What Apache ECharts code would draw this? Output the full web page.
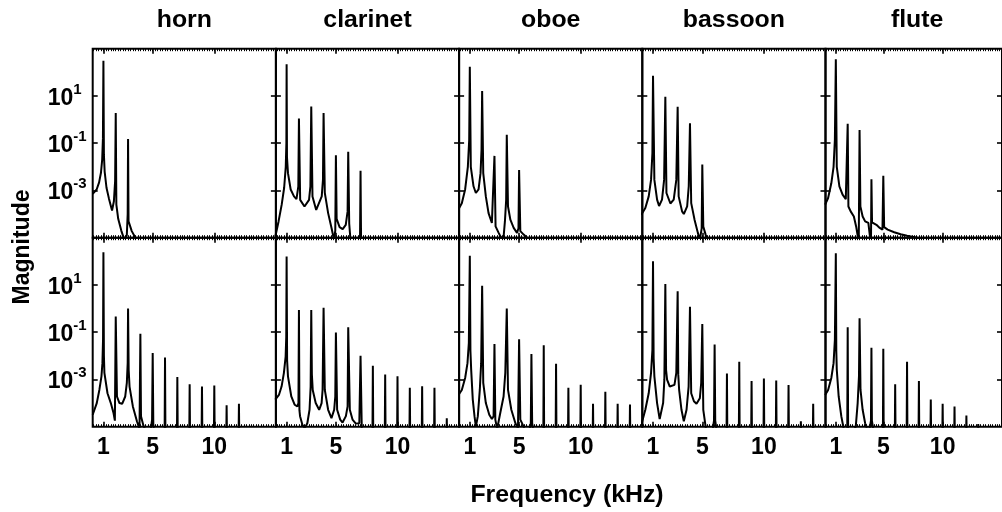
<!DOCTYPE html>
<html><head><meta charset="utf-8">
<script src="https://cdn.jsdelivr.net/npm/echarts@6/dist/echarts.min.js"></script>
<style>html,body{margin:0;padding:0;background:#fff}#c{width:1002px;height:512px}</style>
</head><body><div id="c"></div>
<script>
// ---- data (frequency kHz, magnitude) ----
const instruments = ['horn', 'clarinet', 'oboe', 'bassoon', 'flute'];
const xTickLabels = [1, 5, 10];
const yTickValues = [10, 0.1, 0.001];
const yMin = 1e-5, yMax = 1e3, xMin = 0.13, xMax = 15;

const hornTop = [[0.13,7.2e-4],[0.45,1.1e-3],[0.65,2.2e-3],[0.8,5.6e-3],[0.9,2e-2],[0.96,0.16],[1,310],[1.04,3.2e-2],[1.1,6.3e-3],[1.25,1.3e-3],[1.45,4.5e-4],[1.7,1.4e-4],[1.85,3.5e-4],[1.95,2.5e-3],[2,1.9],[2.05,2.5e-4],[2.2,6.3e-5],[2.45,2e-5],[2.7,8e-6],[2.9,1.3e-5],[2.97,1e-4],[3,0.15],[3.04,5e-5],[3.3,1.9e-5],[3.7,8e-6],[4.2,3e-6]];
const clarinetTop = [[0.08,1.1e-5],[0.35,5e-5],[0.6,2.5e-4],[0.8,1.3e-3],[0.93,1e-2],[0.98,0.1],[1,220],[1.03,2.5e-2],[1.11,5.4e-3],[1.33,1.1e-3],[1.6,5.6e-4],[1.8,4.3e-4],[1.95,1.5e-3],[2,1.1],[2.1,4e-4],[2.45,2.1e-4],[2.82,4e-4],[2.93,1.5e-3],[3,3.6],[3.1,5.6e-4],[3.4,1.5e-4],[3.5,1.4e-4],[3.85,5.6e-4],[3.95,2.8e-3],[4,1.9],[4.1,7.9e-4],[4.37,1.1e-4],[4.65,2.5e-5],[4.85,8e-6],[4.95,2e-5],[5,3.1e-2],[5.06,6.3e-5],[5.3,2.8e-5],[5.55,2.3e-5],[5.8,3.5e-5],[5.95,1.3e-4],[6,4.3e-2],[6.08,4e-5],[6.2,6.3e-6],[6.95,3e-6],[7,6.8e-3],[7.05,3e-6]];
const oboeTop = [[0.08,1.6e-4],[0.35,2.9e-4],[0.62,1.1e-3],[0.84,1e-2],[0.95,0.14],[1,170],[1.08,1e-2],[1.3,1.5e-3],[1.49,7.8e-4],[1.71,1.1e-3],[1.87,5.4e-3],[1.95,5.2e-2],[2,16],[2.09,5.4e-3],[2.3,5.6e-4],[2.52,1.1e-4],[2.79,4.2e-5],[2.93,5e-5],[3,2.9e-2],[3.09,3e-5],[3.34,1.6e-5],[3.5,1.1e-5],[3.72,8e-6],[3.85,5e-5],[3.95,4e-4],[4,0.23],[4.1,2.1e-4],[4.29,5.8e-5],[4.56,2.6e-5],[4.83,1.6e-5],[4.95,2.5e-5],[5,7.4e-3],[5.1,1.9e-5],[5.37,1.35e-5],[5.65,1e-5],[5.95,7e-6]];
const bassoonTop = [[0.05,9.3e-5],[0.375,1.8e-4],[0.65,5.6e-4],[0.84,2.8e-3],[0.95,3.8e-2],[1,72],[1.11,2.8e-3],[1.33,4.1e-4],[1.49,2.2e-4],[1.73,4.1e-4],[1.9,2.8e-3],[2,9.3],[2.09,7.8e-4],[2.41,2.8e-4],[2.68,4.1e-4],[2.89,2.8e-3],[3,3.5],[3.08,5.6e-4],[3.36,1.3e-4],[3.5,1e-4],[3.77,2.1e-4],[3.9,1.5e-3],[4,0.7],[4.1,2.9e-4],[4.37,5.8e-5],[4.64,1.6e-5],[4.8,8e-6],[4.95,2.5e-5],[5,1.26e-2],[5.08,3e-5],[5.27,1.35e-5],[5.45,7e-6]];
const fluteTop = [[0.1,2.5e-4],[0.35,4.8e-4],[0.62,2e-3],[0.81,1e-2],[0.92,0.14],[1,360],[1.08,1e-2],[1.3,1.5e-3],[1.57,6.6e-4],[1.84,4.3e-4],[1.95,5e-4],[2,0.66],[2.06,2.1e-4],[2.25,1.3e-4],[2.52,7.9e-5],[2.71,3e-5],[2.85,1.15e-5],[2.93,5e-6],[3,0.36],[3.07,2.1e-4],[3.26,7.9e-5],[3.47,4.9e-5],[3.74,4.2e-5],[3.9,3.5e-5],[3.96,5e-6],[4,3e-3],[4.05,4.5e-5],[4.15,4.2e-5],[4.42,3.5e-5],[4.7,2.6e-5],[4.93,2.2e-5],[5,4.2e-3],[5.07,2.8e-5],[5.37,2.2e-5],[5.92,1.7e-5],[6.46,1.4e-5],[7,1.2e-5],[7.55,1.07e-5],[8.1,9.3e-6],[8.6,7e-6]];

const hornBottom = [[0.13,3.2e-5],[0.46,1e-4],[0.67,3.6e-4],[0.84,1.35e-3],[0.92,4.9e-3],[0.97,5e-2],[1,240],[1.04,1e-2],[1.08,1.9e-3],[1.33,2.6e-4],[1.6,1e-4],[1.82,3.8e-5],[1.93,1.8e-5],[2,0.46],[2.1,1.9e-4],[2.3,1e-4],[2.52,9.3e-5],[2.77,1.9e-4],[2.9,7.1e-4],[2.97,5e-3],[3,1],[3.05,2.5e-3],[3.12,5e-4],[3.39,7.2e-5],[3.72,1.7e-5],[3.93,8e-6],[4,8.5e-2],[4.05,2.8e-5],[4.26,1.05e-5],[4.5,6.3e-6],[4.85,8e-6],[4.95,2e-5],[5,1.3e-2],[5.05,1.26e-5],[5.2,3e-6]];
const hornBottomSpikes = [[6,8.5e-3],[7,1.26e-3],[8,6.2e-4],[9,5e-4],[10,5.6e-4],[11,8e-5],[12,9.3e-5]];
const clarinetBottom = [[0.08,1.4e-4],[0.375,2.2e-4],[0.59,5e-4],[0.78,1.9e-3],[0.92,9.3e-3],[0.97,6.3e-2],[1,160],[1.04,6.3e-3],[1.11,1.35e-3],[1.38,1.9e-4],[1.65,8.5e-5],[1.87,7.2e-5],[1.96,1e-4],[2,0.87],[2.04,5e-5],[2.09,2.8e-5],[2.28,1.2e-5],[2.47,8.7e-6],[2.68,1.4e-5],[2.86,5.2e-5],[2.95,5e-4],[3,0.87],[3.05,1.6e-3],[3.12,3.6e-4],[3.36,1e-4],[3.64,5.2e-5],[3.84,1e-4],[3.92,3.6e-4],[4,1.07],[4.1,3.6e-4],[4.37,5.2e-5],[4.64,2.3e-5],[4.86,5.2e-5],[4.95,1.9e-4],[5,9.8e-2],[5.1,5.2e-5],[5.35,2e-5],[5.54,1.5e-5],[5.81,2.8e-5],[5.95,7.2e-5],[6,0.16],[6.13,5.2e-5],[6.35,2e-5],[6.62,1.35e-5],[6.9,1.4e-5],[7,1e-2],[7.1,8.7e-6],[7.25,3e-6]];
const clarinetBottomSpikes = [[8,3.8e-3],[9,1.6e-3],[10,1.35e-3],[11,4.5e-4],[12,5.2e-4],[13,4.5e-4],[14,2.3e-5]];
const oboeBottom = [[0.08,2.2e-4],[0.35,3.6e-4],[0.62,1.15e-3],[0.81,4.9e-3],[0.92,3.5e-2],[1,170],[1.05,1.6e-2],[1.11,2.6e-3],[1.24,1.4e-4],[1.38,2.8e-5],[1.49,1e-5],[1.65,2.8e-5],[1.81,3.6e-4],[1.92,4.9e-3],[2,9.3],[2.09,7.1e-4],[2.3,1e-4],[2.58,3.2e-5],[2.79,2.1e-5],[2.93,2.8e-5],[3,3.2e-2],[3.07,2e-5],[3.22,8e-6],[3.47,3.8e-5],[3.74,1.9e-4],[3.88,1.9e-3],[4,1],[4.1,3.6e-4],[4.37,5.2e-5],[4.7,1.4e-5],[4.91,8.7e-6],[5,5e-2],[5.1,2e-5],[5.37,1e-5],[5.55,5e-6],[5.85,8e-6],[5.95,1.4e-5],[6,1.2e-2],[6.06,1.4e-5],[6.2,5e-6]];
const oboeBottomSpikes = [[7,2.8e-2],[8,4.6e-3],[9,4.5e-4],[10,5.9e-4],[11,9.3e-5],[12,3e-4],[13,9.3e-5],[14,8.7e-5]];
const bassoonBottom = [[0.05,1.2e-5],[0.375,5.2e-5],[0.65,2.6e-4],[0.84,1.9e-3],[0.95,1.8e-2],[1,100],[1.05,7.9e-3],[1.11,1.35e-3],[1.33,1e-4],[1.54,2.1e-5],[1.6,1.9e-5],[1.82,1e-4],[1.92,9.8e-4],[2,11],[2.06,2.5e-3],[2.14,9.8e-4],[2.36,5e-4],[2.49,4.3e-4],[2.74,5.9e-4],[2.89,1.9e-3],[3,5.4],[3.05,1.6e-3],[3.12,3.6e-4],[3.31,5.2e-5],[3.5,1.7e-5],[3.72,5.2e-5],[3.89,5e-4],[4,1.2],[4.1,2.6e-4],[4.32,1.2e-4],[4.53,9.3e-5],[4.8,1.6e-4],[4.91,7.1e-4],[5,0.22],[5.08,5.2e-5],[5.27,1e-5],[5.45,4e-6],[5.85,8e-6],[5.95,1.8e-5],[6,3e-2],[6.05,1.8e-5],[6.2,5e-6]];
const bassoonBottomSpikes = [[7,1.8e-3],[8,5.6e-3],[9,8.5e-4],[10,1.1e-3],[11,9e-4],[12,5.8e-4],[13,1.7e-5],[14,9.3e-5]];
const fluteBottom = [[0.1,2.2e-4],[0.35,3.6e-4],[0.62,1.15e-3],[0.81,4.9e-3],[0.92,4.8e-2],[1,220],[1.04,1.6e-2],[1.08,2.6e-3],[1.24,1.9e-4],[1.46,2.8e-5],[1.63,1e-5],[1.8,4e-6],[1.96,3e-6],[2,0.16],[2.04,3e-6],[2.68,1e-5],[2.84,1e-4],[2.95,1.35e-3],[3,0.39],[3.08,3.6e-4],[3.26,5.2e-5],[3.47,1.4e-5],[3.7,6.3e-6],[3.88,1e-5],[3.96,1.8e-5],[4,2.2e-2],[4.04,1.8e-5],[4.15,8e-6],[4.3,4e-6]];
const fluteBottomSpikes = [[5,2e-2],[6,6.3e-4],[7,5.6e-3],[8,8.5e-4],[9,1.4e-4],[10,9.3e-5],[11,7.2e-5],[12,3e-5],[13,1.3e-5]];

const topRow = [hornTop, clarinetTop, oboeTop, bassoonTop, fluteTop];
const bottomRow = [hornBottom, clarinetBottom, oboeBottom, bassoonBottom, fluteBottom];
const bottomSpikes = [hornBottomSpikes, clarinetBottomSpikes, oboeBottomSpikes, bassoonBottomSpikes, fluteBottomSpikes];

// minor x ticks every 0.2 kHz
const xMinorTicks = [];
for (let k = 1; k < 75; k++) xMinorTicks.push(+(k * 0.2).toFixed(2));

// ---- build ----
const FONT = 'Liberation Sans, Arial, sans-serif';
const L0 = 92.7, W = 183.2, TOPS = [48.7, 237.7], H = 189;
const grids = [], xAxes = [], yAxes = [], series = [];

function withSpikes(curve, spikes) {
  const out = curve.slice();
  (spikes || []).forEach(function (s) {
    out.push([s[0] - 0.04, yMin / 10], [s[0], s[1]], [s[0] + 0.04, yMin / 10]);
  });
  return out;
}

for (let r = 0; r < 2; r++) {
  for (let c = 0; c < 5; c++) {
    const g = grids.length;
    grids.push({ left: L0 + c * W, top: TOPS[r], width: W, height: H, show: true,
      borderColor: '#000', borderWidth: 2, backgroundColor: 'transparent' });
    const xBase = { gridIndex: g, type: 'value', min: xMin, max: xMax,
      axisLine: { show: false }, splitLine: { show: false } };
    const xi = xAxes.length;
    xAxes.push(Object.assign({}, xBase, { position: 'bottom',
      axisTick: { show: true, inside: true, length: 2.5, customValues: xMinorTicks, lineStyle: { color: '#000', width: 1 } },
      axisLabel: { show: r === 1, customValues: xTickLabels, color: '#000', fontSize: 23, fontWeight: 'bold',
        fontFamily: FONT, margin: 9, formatter: function (v) { return String(Math.round(v)); } } }));
    xAxes.push(Object.assign({}, xBase, { position: 'bottom',
      axisTick: { show: true, inside: true, length: 5, customValues: xTickLabels, lineStyle: { color: '#000', width: 1.6 } },
      axisLabel: { show: false } }));
    xAxes.push(Object.assign({}, xBase, { position: 'top',
      axisTick: { show: true, inside: true, length: 2.5, customValues: xMinorTicks, lineStyle: { color: '#000', width: 1 } },
      axisLabel: { show: false } }));
    xAxes.push(Object.assign({}, xBase, { position: 'top',
      axisTick: { show: true, inside: true, length: 5, customValues: xTickLabels, lineStyle: { color: '#000', width: 1.6 } },
      axisLabel: { show: false } }));
    const yBase = { gridIndex: g, type: 'log', logBase: 10, min: yMin, max: yMax,
      axisLine: { show: false }, splitLine: { show: false } };
    const yi = yAxes.length;
    yAxes.push(Object.assign({}, yBase, { position: 'left',
      axisTick: { show: true, inside: true, length: 5, customValues: yTickValues, lineStyle: { color: '#000', width: 1.6 } },
      axisLabel: { show: c === 0, customValues: yTickValues, align: 'left', margin: 45,
        formatter: function (v) { return '{b|10}{s|' + Math.round(Math.log10(v)) + '}'; },
        rich: {
          b: { fontSize: 23, fontWeight: 'bold', fontFamily: FONT, color: '#000', lineHeight: 28, verticalAlign: 'bottom' },
          s: { fontSize: 15, fontWeight: 'bold', fontFamily: FONT, color: '#000', lineHeight: 15, verticalAlign: 'top' }
        } } }));
    yAxes.push(Object.assign({}, yBase, { position: 'right',
      axisTick: { show: true, inside: true, length: 5, customValues: yTickValues, lineStyle: { color: '#000', width: 1.6 } },
      axisLabel: { show: false } }));
    const data = r === 0 ? topRow[c] : withSpikes(bottomRow[c], bottomSpikes[c]);
    series.push({ type: 'line', xAxisIndex: xi, yAxisIndex: yi, data: data, symbol: 'none', clip: true,
      lineStyle: { color: '#000', width: 2, join: 'bevel' }, silent: true, animation: false });
  }
}

function label(text, x, y, rot) {
  return { type: 'text', x: x, y: y, rotation: rot || 0, scaleX: rot ? 1 : 1.08, scaleY: rot ? 1.08 : 1,
    style: { text: text, fill: '#000', font: 'bold 23px ' + FONT, align: 'center', verticalAlign: 'middle',
      textAlign: 'center', textVerticalAlign: 'middle' } };
}
const graphics = instruments.map(function (name, c) { return label(name, L0 + c * W + W / 2, 21); });
graphics.push(label('Frequency (kHz)', 567, 496));
graphics.push(label('Magnitude', 22, 247, Math.PI / 2));

const chart = echarts.init(document.getElementById('c'), null, { renderer: 'canvas' });
chart.setOption({ animation: false, backgroundColor: '#fff', grid: grids, xAxis: xAxes, yAxis: yAxes,
  series: series, graphic: graphics });
</script></body></html>
